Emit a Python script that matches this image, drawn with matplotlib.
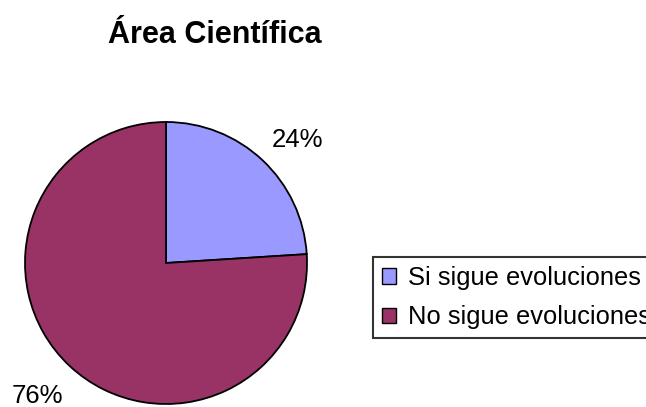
import matplotlib
matplotlib.use('Agg')
import matplotlib.pyplot as plt
from matplotlib.patches import Rectangle

plt.rcParams['font.family'] = ['Liberation Sans', 'DejaVu Sans']

titulo = 'Área Científica'
categorias = ['Si sigue evoluciones', 'No sigue evoluciones']
valores = [24, 76]
colores = ['#9999FF', '#993366']

fig = plt.figure(figsize=(6.46, 4.07), dpi=100)
W, H = 646, 407
cx, cy, r = 166, 263, 141
ax = fig.add_axes([(cx - r) / W, (H - cy - r) / H, 2 * r / W, 2 * r / H])

wedges, textos, pcts = ax.pie(valores, colors=colores, startangle=90, counterclock=False,
                              autopct='%1.0f%%', pctdistance=1.29,
                              wedgeprops={'edgecolor': 'black', 'linewidth': 1.3},
                              textprops={'fontsize': 18.5})
# etiquetas como en el original (algo desplazadas)
pcts[0].set_position((0.93, 0.87))
pcts[1].set_position((-0.91, -0.94))
for t in pcts:
    t.set_clip_on(False)
ax.set_xlim(-1, 1)
ax.set_ylim(-1, 1)
ax.set_aspect('equal')
ax.axis('off')

fig.text(215 / W, 1 - 35 / H, titulo, ha='center', va='center', fontsize=22, fontweight='bold')

handles = [Rectangle((0, 0), 1, 1, facecolor=c, edgecolor='black', linewidth=1) for c in colores]
leg = fig.legend(handles, categorias, loc='upper left', bbox_to_anchor=(373 / W, 1 - 257 / H),
                 fontsize=18.4, frameon=True, fancybox=False, handlelength=0.55, handleheight=0.55,
                 handletextpad=0.45, borderpad=0.35, labelspacing=0.6, borderaxespad=0)
leg.get_frame().set_edgecolor('black')
leg.get_frame().set_linewidth(1.5)

fig.savefig('out.png', dpi=100)
